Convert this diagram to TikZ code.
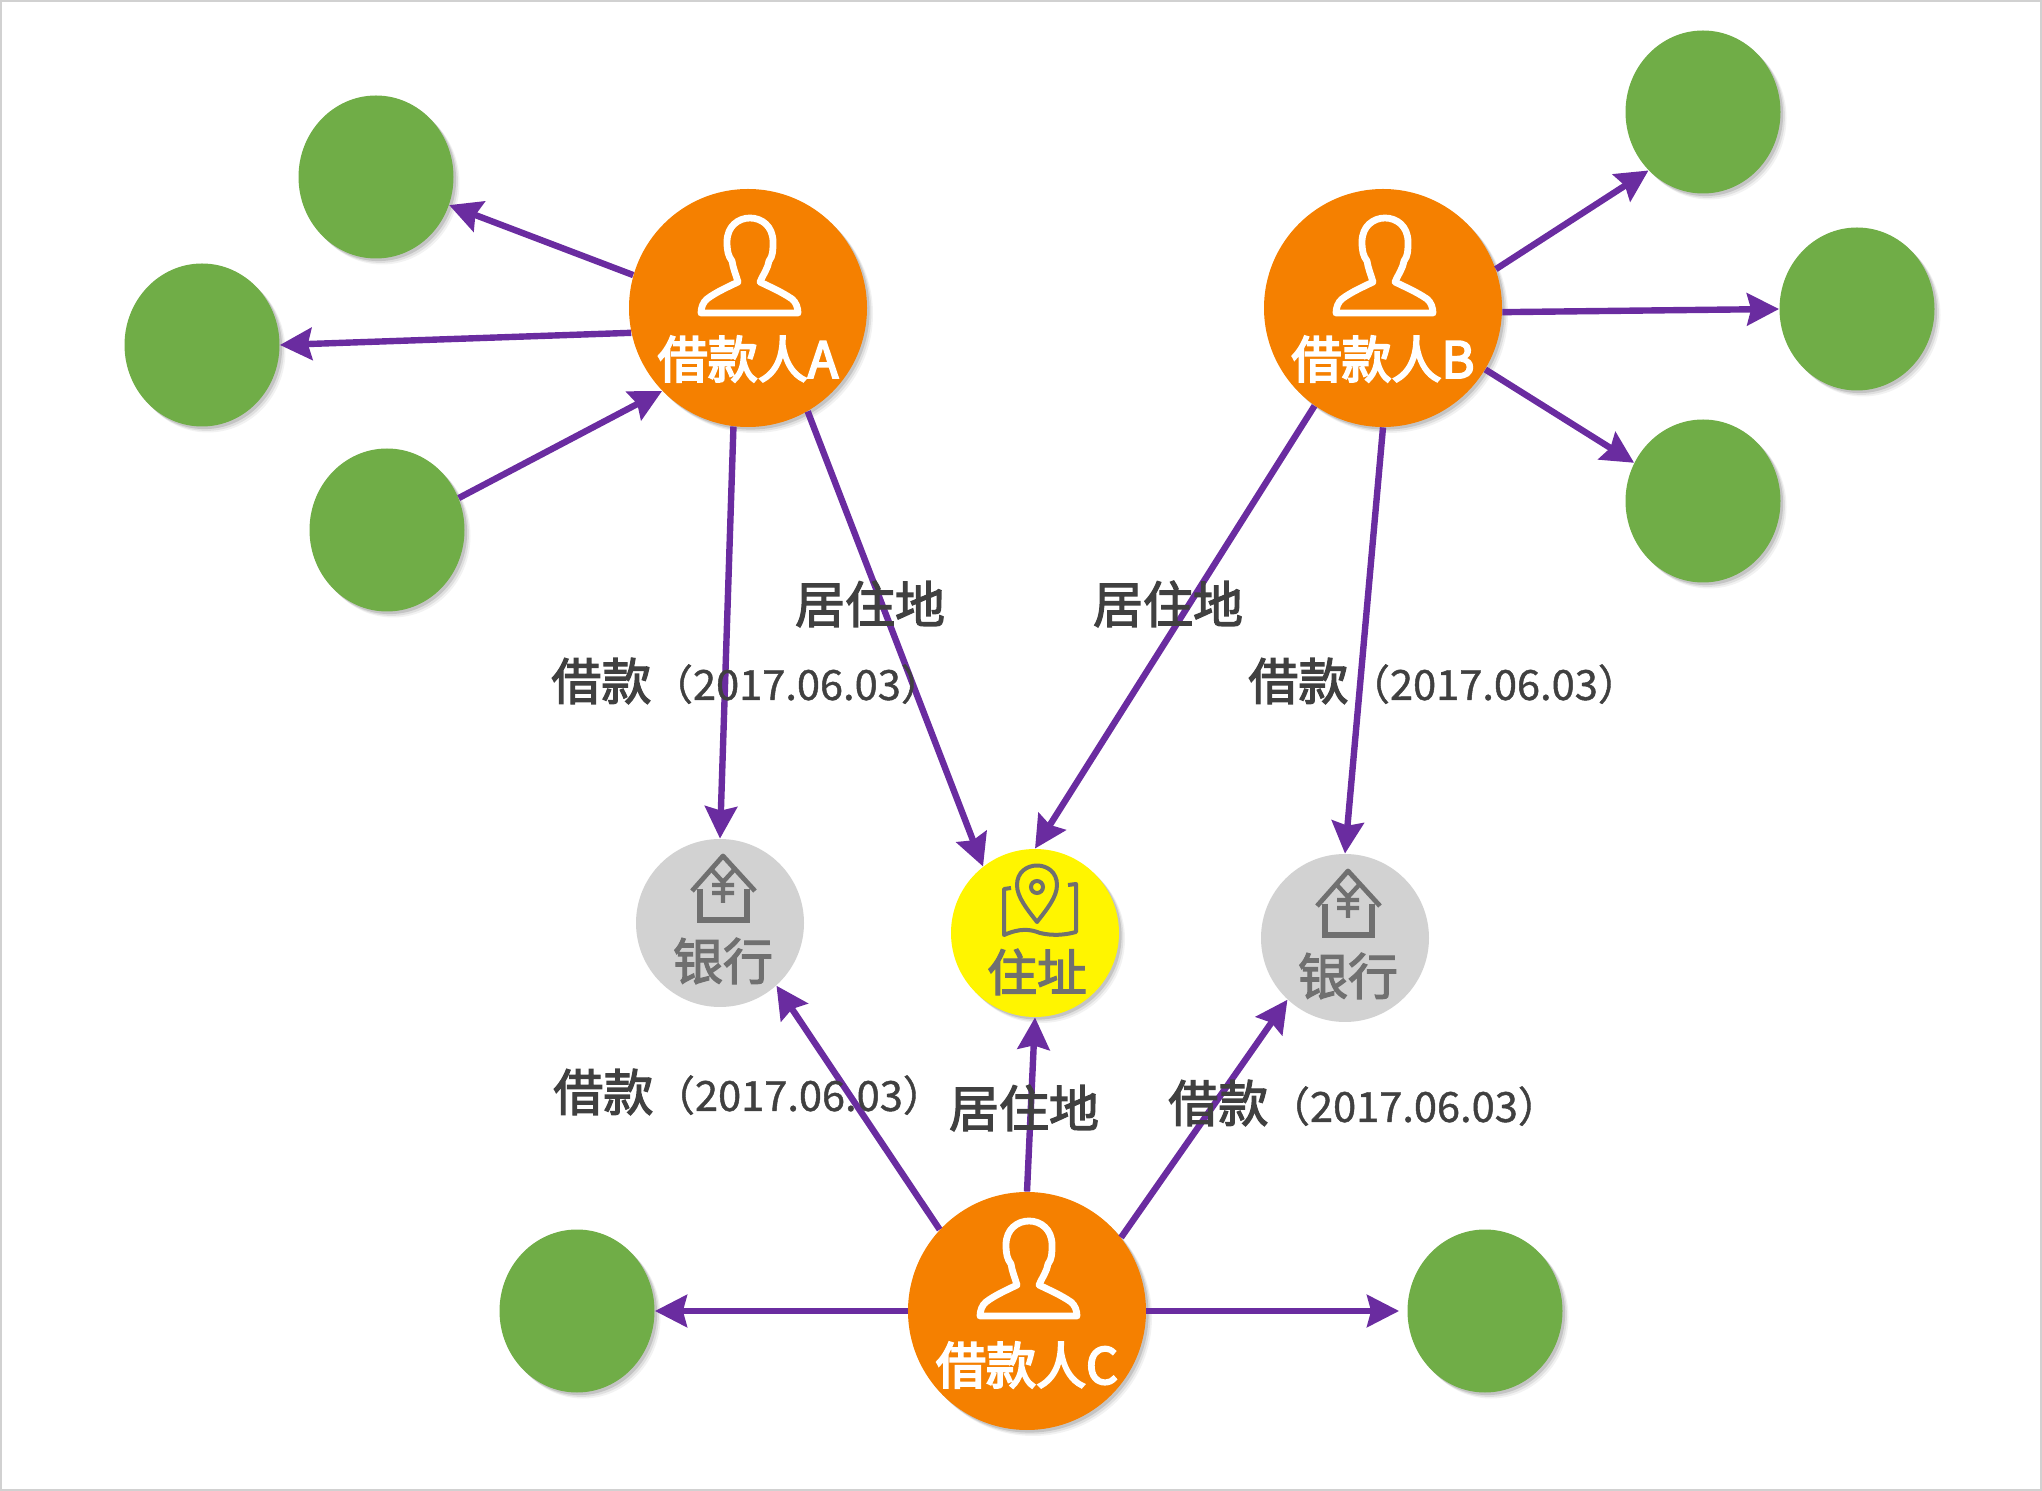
\documentclass[tikz,border=0pt]{standalone}
\usepackage{fontspec}
\setmainfont{Noto Sans CJK SC}
\newfontfamily\cjkw[FakeBold=4]{Noto Sans CJK SC}
\newfontfamily\cjkm[FakeBold=2.5]{Noto Sans CJK SC}
\newfontfamily\cjkn[FakeBold=1]{Noto Sans CJK SC}
\usetikzlibrary{arrows.meta,shapes.geometric,shadows}
\definecolor{lnk}{HTML}{6A2CA0}
\definecolor{grn}{HTML}{70AD47}
\definecolor{org}{HTML}{F58000}
\definecolor{yel}{HTML}{FFF500}
\definecolor{bnk}{HTML}{D2D2D2}
\definecolor{ico}{HTML}{707070}
\definecolor{txt}{HTML}{404040}
\tikzset{
  softshadow/.style={
    drop shadow={shadow xshift=3pt,shadow yshift=-3pt,fill=black,opacity=.05},
    drop shadow={shadow xshift=2.2pt,shadow yshift=-2.2pt,fill=black,opacity=.08},
    drop shadow={shadow xshift=1.3pt,shadow yshift=-1.3pt,fill=black,opacity=.12}},
  leaf/.style={ellipse,minimum width=77.5pt,minimum height=81.5pt,inner sep=0pt,fill=grn,softshadow},
  borrower/.style={circle,minimum size=119pt,inner sep=0pt,fill=org,softshadow},
  bank/.style={circle,minimum size=84pt,inner sep=0pt,fill=bnk},
  place/.style={circle,minimum size=84pt,inner sep=0pt,fill=yel,softshadow},
  link/.style={draw=lnk,line width=3.2pt,-{Stealth[length=16pt,width=16pt,inset=2pt]}},
  whitetext/.style={text=white,font=\fontsize{25}{25}\cjkw,inner sep=0pt},
  grayicon/.style={text=ico,font=\fontsize{25}{25}\cjkm,inner sep=0pt},
  edgetext/.style={text=txt,inner sep=0pt,font=\fontsize{25}{25}\cjkm},
  person/.pic={\draw[white,line width=3.4pt,line join=round]
     (-47,5) -- (50,5) .. controls (50,0) and (48,-6) .. (44,-9) .. controls (34,-16) and (20,-22) .. (12,-26)
     .. controls (16,-35) and (20,-40) .. (21,-47)
     .. controls (25,-52) and (25,-58) .. (25,-66) .. controls (25,-98) and (-21,-98) .. (-21,-66)
     .. controls (-21,-58) and (-20,-52) .. (-16,-47) .. controls (-15,-40) and (-12,-33) .. (-10,-26)
     .. controls (-18,-22) and (-32,-16) .. (-41,-9) .. controls (-45,-6) and (-47,0) .. (-47,5) -- cycle;},
  bankicon/.pic={\draw[ico,line width=2.4pt,line join=round]
     (-28,-32) -- (3,-67) -- (35,-32);
     \draw[ico,line width=3pt] (-20,-34) -- (-20,-3) -- (27,-3) -- (27,-34);
     \draw[ico,line width=2.2pt] (-8,-53) -- (3,-41) -- (14,-53) (3,-41) -- (3,-20) (-8,-38) -- (14,-38) (-8,-30) -- (14,-30);},
  mapicon/.pic={\draw[ico,line width=2pt,line join=round]
     (2,-11) .. controls (-8,-24) and (-18,-36) .. (-18,-48) .. controls (-18,-74) and (22,-74) .. (22,-48) .. controls (22,-36) and (12,-24) .. (2,-11) -- cycle;
     \draw[ico,line width=2pt] (2,-46) circle[radius=6];
     \draw[ico,line width=2pt,line join=round]
     (-24,-45) -- (-31,-44) -- (-31,2) .. controls (-15,-5) and (-5,-4) .. (5,0) .. controls (18,3) and (30,2) .. (41,-1) -- (41,-49) -- (33,-48);}
}
\newcommand{\loantext}{借款{\fontsize{20.8}{21}\cjkn（2017.06.03）}}
\begin{document}
\begin{tikzpicture}[x=.5pt,y=-.5pt]
\useasboundingbox (0,0) rectangle (2042,1491);
\draw[line width=1pt,draw=black!18] (1,1) rectangle (2041,1490);
\node[leaf] (g1) at (376,177) {};
\node[leaf] (g2) at (202,345) {};
\node[leaf] (g3) at (387,530) {};
\node[leaf] (g4) at (1703,112) {};
\node[leaf] (g5) at (1857,309) {};
\node[leaf] (g6) at (1703,501) {};
\node[leaf] (g7) at (577,1311) {};
\node[leaf] (g8) at (1485,1311) {};
\node[borrower] (A) at (748,308) {};
\node[borrower] (B) at (1383,308) {};
\node[borrower] (C) at (1027,1311) {};
\node[bank] (b1) at (720,923) {};
\node[bank] (b2) at (1345,938) {};
\node[place] (addr) at (1035,933) {};

\draw[link] (A.164) -- (g1.-21);
\draw[link] (A.192) -- (g2.0);
\draw[link] (g3.24) -- (A.224);
\draw[link] (A.263) -- (b1.90);
\draw[link] (A.-60) -- (addr.128);
\draw[link] (B.235) -- (addr.90);
\draw[link] (B.270) -- (b2.90);
\draw[link] (B.19) -- (g4.227);
\draw[link] (B.-2) -- (g5.180);
\draw[link] (B.-31) -- (g6.151);
\draw[link] (C.137) -- (b1.-48);
\draw[link] (C.90) -- (addr.-90);
\draw[link] (C.38) -- (b2.227);
\draw[link] (C.180) -- (g7.0);
\draw[link,shorten >=4pt] (C.0) -- (g8.180);

\pic at (748,308) {person};
\pic at (1383,308) {person};
\pic at (1027,1311) {person};
\pic at (720,923) {bankicon};
\pic at (1345,938) {bankicon};
\pic at (1035,933) {mapicon};

\node[whitetext] (tA) at (748,359) {借款人A};
\node[whitetext] (tB) at (1383,359) {借款人B};
\node[whitetext] (tC) at (1027,1365) {借款人C};
\node[grayicon] (tb1) at (723,961) {银行};
\node[grayicon] (tb2) at (1348,976) {银行};
\node[grayicon] (taddr) at (1037,972) {住址};

\node[edgetext] (r1) at (870,604) {居住地};
\node[edgetext] (r2) at (1168,604) {居住地};
\node[edgetext] (r3) at (1024,1108) {居住地};
\node[edgetext,anchor=west] (l1) at (551,681) {\loantext};
\node[edgetext,anchor=west] (l2) at (1248,681) {\loantext};
\node[edgetext,anchor=west] (l3) at (553,1092) {\loantext};
\node[edgetext,anchor=west] (l4) at (1168,1103) {\loantext};
\end{tikzpicture}
\end{document}
